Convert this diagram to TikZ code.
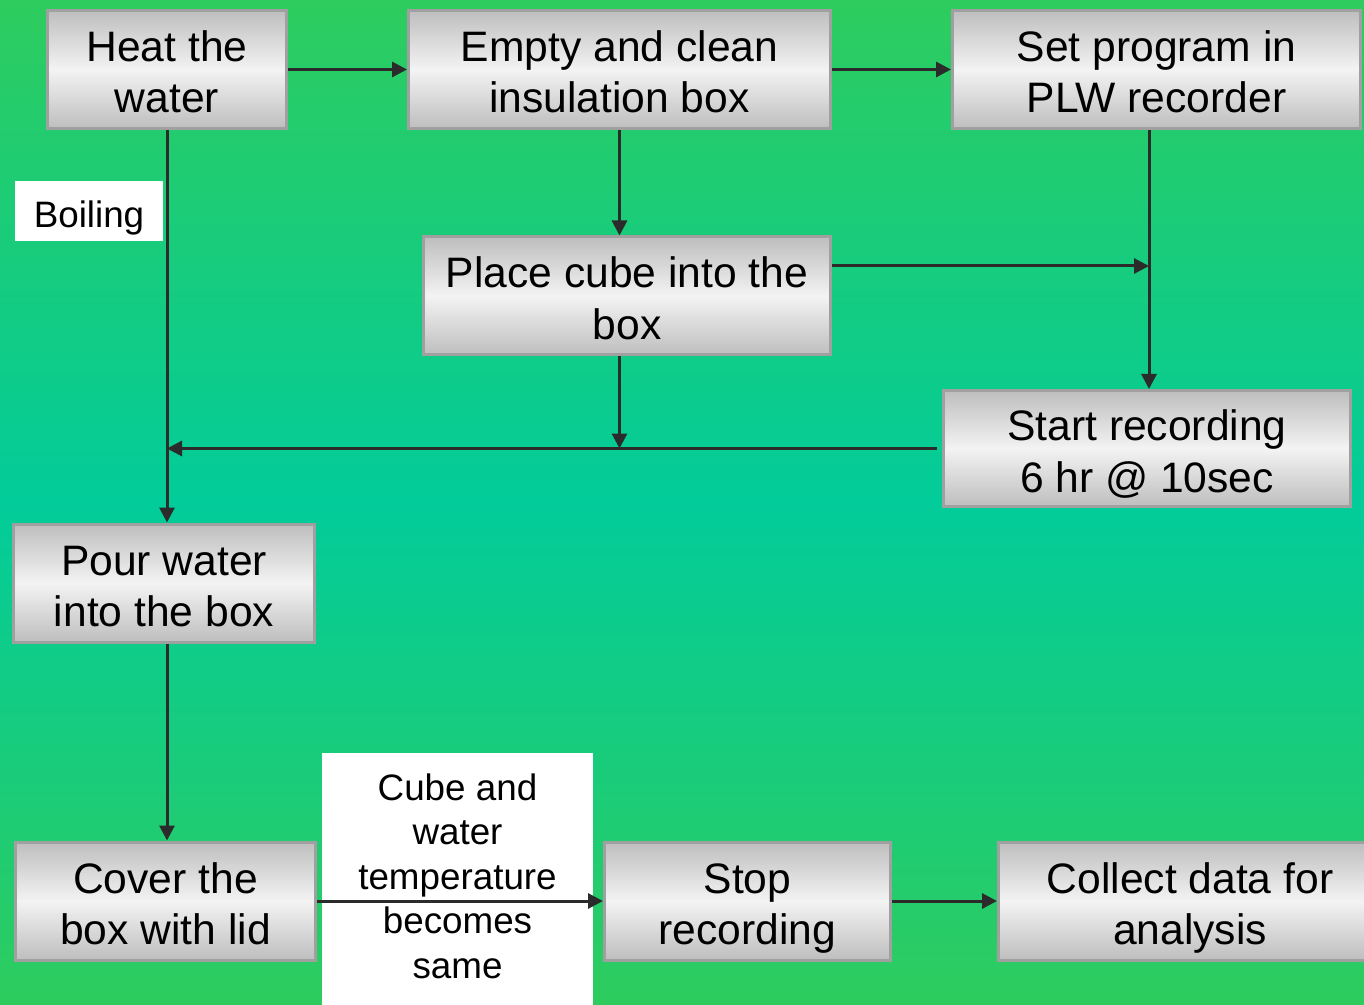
\documentclass[tikz,border=0pt]{standalone}
\usepackage{fontspec}
\setmainfont{Liberation Sans}
\usetikzlibrary{arrows.meta}
\definecolor{bgtop}{RGB}{46,204,94}
\definecolor{bgmid}{RGB}{2,204,154}
\definecolor{boxedge}{RGB}{160,160,160}
\definecolor{boxdark}{RGB}{190,190,190}
\definecolor{boxlight}{RGB}{243,243,243}
\definecolor{linedark}{RGB}{43,43,43}

\begin{document}
\begin{tikzpicture}[x=0.5pt,y=-0.5pt,
  stepbox/.style={rectangle,draw=boxedge,line width=1.5pt,top color=boxdark,bottom color=boxdark,middle color=boxlight,align=center,inner sep=0pt,minimum height=59pt,font=\fontsize{21.3}{25.75}\selectfont,text height=43.5pt,text depth=0pt},
  note/.style={rectangle,fill=white,align=center,inner sep=0pt,font=\fontsize{18.4}{22.25}\selectfont,text depth=0pt},
  flow/.style={draw=linedark,line width=1.5pt,-{Triangle[length=7.5pt,width=7.5pt]}}]
  \useasboundingbox (0,0) rectangle (1364,1005);
  \shade[top color=bgtop,bottom color=bgtop,middle color=bgmid] (0,0) rectangle (1364,1005);

  \node[stepbox,minimum width=119.5pt] (heat)    at (167,69.5)   {Heat the\\water};
  \node[stepbox,minimum width=211pt]   (empty)   at (619.5,69.5) {Empty and clean\\insulation box};
  \node[stepbox,minimum width=204pt]   (setprog) at (1156.5,69.5){Set program in\\PLW recorder};
  \node[stepbox,minimum width=203.5pt] (place)   at (627,296)    {Place cube into the\\box};
  \node[stepbox,minimum width=203.5pt,minimum height=58pt] (start) at (1147,448.5) {Start recording\\6 hr @ 10sec};
  \node[stepbox,minimum width=150.5pt] (pour)    at (164,583)    {Pour water\\into the box};
  \node[stepbox,minimum width=150pt]   (cover)   at (165.5,901)  {Cover the\\box with lid};
  \node[stepbox,minimum width=143pt]   (stop)    at (747.5,901)  {Stop\\recording};
  \node[stepbox,minimum width=191.5pt] (collect) at (1190,901)   {Collect data for\\analysis};

  \node[note,text height=17pt,minimum width=74pt,minimum height=30pt] (boil) at (89,211) {Boiling};
  \node[note,text height=99pt,minimum width=135.5pt,minimum height=126pt] (same) at (457.5,879) {Cube and\\water\\temperature\\becomes\\same};

  \coordinate (tap) at (1149,266);

  \draw[flow] (heat) -- (empty);
  \draw[flow] (empty) -- (setprog);
  \draw[flow] (empty.south) -- (empty.south |- place.north);
  \draw[flow] (tap |- setprog.south) -- (tap |- start.north);
  \draw[flow] (place.east |- tap) -- (tap);
  \draw[flow] (empty.south |- place.south) -- (empty.south |- start.west);
  \draw[flow] ([xshift=-2.5pt]start.west) -- (heat.south |- start.west);
  \draw[flow] (heat.south) -- (heat.south |- pour.north);
  \draw[flow] (heat.south |- pour.south) -- (heat.south |- cover.north);
  \draw[flow] (cover) -- (stop);
  \draw[flow] (stop) -- (collect);
\end{tikzpicture}
\end{document}
